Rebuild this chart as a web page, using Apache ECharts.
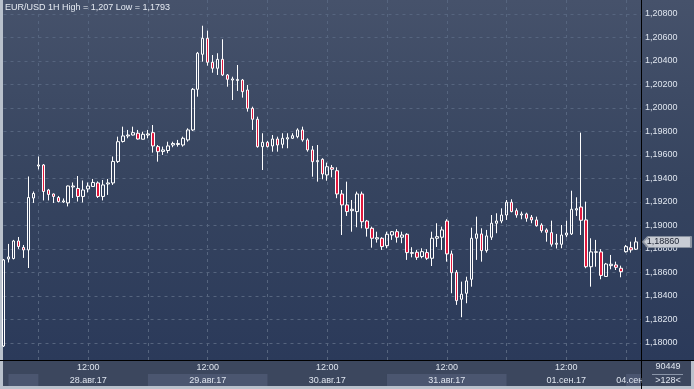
<!DOCTYPE html>
<html><head><meta charset="utf-8">
<script src="https://cdn.jsdelivr.net/npm/echarts@6/dist/echarts.min.js"></script>
<style>
html,body{margin:0;padding:0;background:#2b3a5a;overflow:hidden;}
#c{width:694px;height:389px;
background:
 linear-gradient(#000,#000) 641px 0/1px 389px no-repeat,
 linear-gradient(#000,#000) 0 360px/694px 1px no-repeat,
 linear-gradient(#b9c1cc,#b9c1cc) 0 386px/694px 3px no-repeat,
 linear-gradient(#b9c1cc,#b9c1cc) 0 0/3px 389px no-repeat,
 linear-gradient(#b9c1cc,#b9c1cc) 691px 361px/3px 28px no-repeat,
 linear-gradient(#3c475e,#3c475e) 0 361px/694px 25px no-repeat,
 linear-gradient(to bottom,#46526b 0px,#36445f 180px,#2b3a5a 360px) 0 0/694px 360px no-repeat;}
</style></head>
<body><div id="c"></div>
<script>
const titleText = 'EUR/USD 1H High = 1,207 Low = 1,1793';
const open = [1.17974,1.18715,1.18719,1.18868,1.18813,1.18792,1.19234,1.19506,1.19515,1.19302,
1.19268,1.19238,1.19200,1.19192,1.19328,1.19315,1.19247,1.19311,1.19332,1.19362,
1.19247,1.19353,1.19362,1.19545,1.19715,1.19762,1.19770,1.19785,1.19734,1.19770,
1.19790,1.19671,1.19630,1.19638,1.19685,1.19689,1.19685,1.19728,1.19813,1.20159,
1.20457,1.20593,1.20389,1.20338,1.20414,1.20281,1.20238,1.20234,1.20238,1.20153,
1.19997,1.19904,1.19671,1.19708,1.19677,1.19736,1.19691,1.19736,1.19742,1.19756,
1.19813,1.19728,1.19643,1.19543,1.19563,1.19430,1.19492,1.19466,1.19268,1.19175,
1.19126,1.19118,1.19268,1.19038,1.18976,1.18885,1.18891,1.18828,1.18919,1.18947,
1.18900,1.18925,1.18763,1.18772,1.18735,1.18769,1.18721,1.18891,1.18900,1.19038,
1.18758,1.18602,1.18372,1.18423,1.18542,1.18891,1.18928,1.18786,1.18900,1.19019,
1.19038,1.19089,1.19198,1.19126,1.19089,1.19098,1.19070,1.19047,1.19004,1.18962,
1.18939,1.18840,1.18840,1.18919,1.18928,1.19132,1.19157,1.19047,1.18649,1.18772,
1.18775,1.18566,1.18658,1.18664,1.18636,1.18777,1.18811,1.18798];
const close = [1.18707,1.18732,1.18868,1.18821,1.18792,1.19238,1.19272,1.19515,1.19289,1.19264,
1.19247,1.19204,1.19209,1.19336,1.19336,1.19247,1.19302,1.19336,1.19366,1.19247,
1.19345,1.19362,1.19545,1.19713,1.19762,1.19770,1.19790,1.19736,1.19776,1.19779,
1.19677,1.19628,1.19643,1.19677,1.19698,1.19698,1.19742,1.19813,1.20159,1.20466,
1.20593,1.20389,1.20338,1.20414,1.20281,1.20244,1.20247,1.20243,1.20139,1.19997,
1.19904,1.19671,1.19708,1.19671,1.19736,1.19685,1.19742,1.19747,1.19764,1.19813,
1.19728,1.19643,1.19543,1.19552,1.19438,1.19500,1.19478,1.19268,1.19175,1.19118,
1.19138,1.19268,1.19032,1.18976,1.18891,1.18896,1.18820,1.18925,1.18947,1.18900,
1.18919,1.18769,1.18769,1.18729,1.18777,1.18721,1.18891,1.18905,1.18962,1.18758,
1.18598,1.18360,1.18415,1.18528,1.18891,1.18928,1.18786,1.18911,1.19019,1.19038,
1.19089,1.19198,1.19118,1.19089,1.19098,1.19061,1.19047,1.18998,1.18956,1.18942,
1.18840,1.18849,1.18919,1.18936,1.19138,1.19143,1.19044,1.18649,1.18775,1.18776,
1.18575,1.18672,1.18670,1.18644,1.18607,1.18820,1.18792,1.18860];
const high = [1.18715,1.18843,1.18877,1.18902,1.18834,1.19417,1.19289,1.19587,1.19523,1.19311,
1.19272,1.19251,1.19230,1.19340,1.19366,1.19421,1.19383,1.19366,1.19396,1.19375,
1.19387,1.19396,1.19587,1.19756,1.19841,1.19813,1.19841,1.19813,1.19798,1.19813,
1.19855,1.19685,1.19671,1.19713,1.19713,1.19728,1.19756,1.19827,1.20170,1.20477,
1.20700,1.20658,1.20451,1.20466,1.20585,1.20289,1.20266,1.20366,1.20247,1.20196,
1.20011,1.19926,1.19785,1.19719,1.19770,1.19756,1.19785,1.19785,1.19785,1.19827,
1.19841,1.19742,1.19677,1.19685,1.19572,1.19535,1.19515,1.19495,1.19302,1.19373,
1.19217,1.19288,1.19288,1.19047,1.18990,1.18947,1.18900,1.18947,1.18953,1.18968,
1.18947,1.18934,1.18815,1.18792,1.18806,1.18798,1.18947,1.19019,1.18990,1.19053,
1.18786,1.18621,1.18522,1.18564,1.18981,1.19075,1.18976,1.18962,1.19089,1.19104,
1.19146,1.19217,1.19223,1.19146,1.19118,1.19109,1.19089,1.19075,1.19019,1.18976,
1.19041,1.18928,1.19004,1.19041,1.19296,1.19240,1.19790,1.19203,1.18891,1.18877,
1.18798,1.18681,1.18749,1.18692,1.18658,1.18834,1.18862,1.18900];
const low = [1.17966,1.18685,1.18711,1.18800,1.18724,1.18638,1.19192,1.19477,1.19213,1.19213,
1.19192,1.19196,1.19192,1.19162,1.19234,1.19204,1.19196,1.19281,1.19328,1.19234,
1.19213,1.19260,1.19345,1.19532,1.19706,1.19742,1.19766,1.19732,1.19732,1.19742,
1.19620,1.19543,1.19600,1.19615,1.19666,1.19671,1.19671,1.19713,1.19804,1.20096,
1.20394,1.20360,1.20300,1.20281,1.20272,1.20181,1.20068,1.20145,1.20088,1.19969,
1.19813,1.19662,1.19472,1.19664,1.19628,1.19628,1.19657,1.19657,1.19736,1.19742,
1.19713,1.19628,1.19415,1.19373,1.19393,1.19381,1.19410,1.19232,1.18919,1.19081,
1.18947,1.18985,1.18976,1.18905,1.18811,1.18854,1.18792,1.18806,1.18877,1.18854,
1.18849,1.18707,1.18729,1.18707,1.18721,1.18707,1.18655,1.18817,1.18792,1.18692,
1.18423,1.18324,1.18219,1.18338,1.18479,1.18707,1.18692,1.18769,1.18877,1.18934,
1.19019,1.19047,1.19112,1.19066,1.19053,1.19032,1.19019,1.18990,1.18939,1.18862,
1.18820,1.18804,1.18806,1.18900,1.18919,1.19081,1.18919,1.18636,1.18479,1.18649,
1.18542,1.18562,1.18627,1.18621,1.18559,1.18769,1.18769,1.18792];
// x ticks (candle index), time and date labels
const tickIndex = [17, 41, 65, 89, 113, 127];
const tickTime = ['12:00', '12:00', '12:00', '12:00', '12:00', ''];
const tickDate = ['28.авг.17', '29.авг.17', '30.авг.17', '31.авг.17', '01.сен.17', '04.сен.17'];
const gridLineIndex = [7, 17, 29, 41, 53, 65, 77, 89, 101, 113, 125];
const dayEdgeIndex = [1, 7, 29, 53, 77, 101, 125, 128];
const yMin = 1.17855, yMax = 1.20919, yStep = 0.002;
const statusTop = '90449', statusBottom = '>128<';

const categories = [];
for (let i = 0; i <= open.length; i++) categories.push(String(i));
const kData = open.map((o, i) => [o, close[i], low[i], high[i]]);
const lastIdx = close.length - 1;
const fmt = v => v.toFixed(5).replace('.', ',');
const FONT = '"Liberation Sans", Arial, sans-serif';
const TXT = '#dfe5ef';

const chart = echarts.init(document.getElementById('c'), null, {renderer: 'canvas'});
chart.setOption({
  backgroundColor: 'transparent',
  animation: false,
  title: {text: titleText, left: 5, top: 3, padding: 0,
    textStyle: {fontSize: 9, fontWeight: 'normal', color: '#e6ebf3', fontFamily: FONT}},
  grid: [
    {left: 3.5, right: 53, top: 0, bottom: 29, outerBoundsMode: 'none', containLabel: false},
    {left: 3.5, right: 53, top: 374, height: 12, outerBoundsMode: 'none', containLabel: false}
  ],
  xAxis: [
    {type: 'category', gridIndex: 0, data: categories, boundaryGap: false,
      axisLine: {show: false}, axisTick: {show: false},
      axisLabel: {show: true, interval: (i) => tickIndex.includes(i), margin: 1,
        formatter: (v, i) => { const k = tickIndex.indexOf(Number(v)); return k < 0 ? '' : tickTime[k] + '\n' + tickDate[k]; },
        color: TXT, fontSize: 9, lineHeight: 13, fontFamily: FONT, hideOverlap: false},
      splitLine: {show: true, interval: (i) => gridLineIndex.includes(i),
        lineStyle: {color: '#56657f', type: [3, 4], width: 1}}},
    {type: 'category', gridIndex: 1, data: categories, boundaryGap: false,
      axisLine: {show: false}, axisTick: {show: false}, axisLabel: {show: false},
      splitLine: {show: false},
      splitArea: {show: true, interval: (i) => dayEdgeIndex.includes(i),
        areaStyle: {color: ['#4b5670', 'rgba(0,0,0,0)']}}}
  ],
  yAxis: [
    {type: 'value', gridIndex: 0, position: 'right', min: yMin, max: yMax,
      minInterval: yStep, maxInterval: yStep, splitNumber: 15, scale: true,
      axisLine: {show: false}, axisTick: {show: false},
      axisLabel: {formatter: fmt, color: TXT, fontSize: 9, fontFamily: FONT, margin: 4,
        showMinLabel: false, showMaxLabel: false},
      splitLine: {show: true, showMinLine: false, showMaxLine: false,
        lineStyle: {color: '#56657f', type: [3, 4], width: 1}}},
    {type: 'value', gridIndex: 1, show: false}
  ],
  series: [{
    type: 'candlestick', xAxisIndex: 0, yAxisIndex: 0, data: kData,
    barWidth: 3,
    itemStyle: {color: 'rgba(0,0,0,0)', color0: '#e0183d', borderColor: '#ffffff', borderColor0: '#ffffff', borderWidth: 1},
    markPoint: {
      silent: true,
      symbol: 'path://M0,5L5,0L48,0L48,10L5,10Z',
      symbolSize: [48, 11], symbolKeepAspect: false,
      symbolOffset: [31, 0],
      itemStyle: {color: '#c8ccd4', borderColor: '#8e95a2', borderWidth: 1},
      label: {show: true, position: 'inside', offset: [-4, 0], color: '#1b2131', fontSize: 9, fontFamily: FONT,
        formatter: (p) => fmt(p.value)},
      data: [{coord: [lastIdx, close[lastIdx]], value: close[lastIdx]}]
    }
  }],
  graphic: [
    {type: 'rect', z: 100, shape: {x: 642, y: 361, width: 49, height: 25}, style: {fill: '#3c475e'}},
    {type: 'text', z: 101, x: 668, y: 367, style: {text: statusTop, fill: TXT, fontSize: 9, fontFamily: FONT, align: 'center', verticalAlign: 'middle'}},
    {type: 'line', z: 101, shape: {x1: 652, y1: 374.5, x2: 683, y2: 374.5}, style: {stroke: '#8a95a8', lineWidth: 1}},
    {type: 'text', z: 101, x: 668, y: 381, style: {text: statusBottom, fill: TXT, fontSize: 9, fontFamily: FONT, align: 'center', verticalAlign: 'middle'}}
  ]
});
</script></body></html>
